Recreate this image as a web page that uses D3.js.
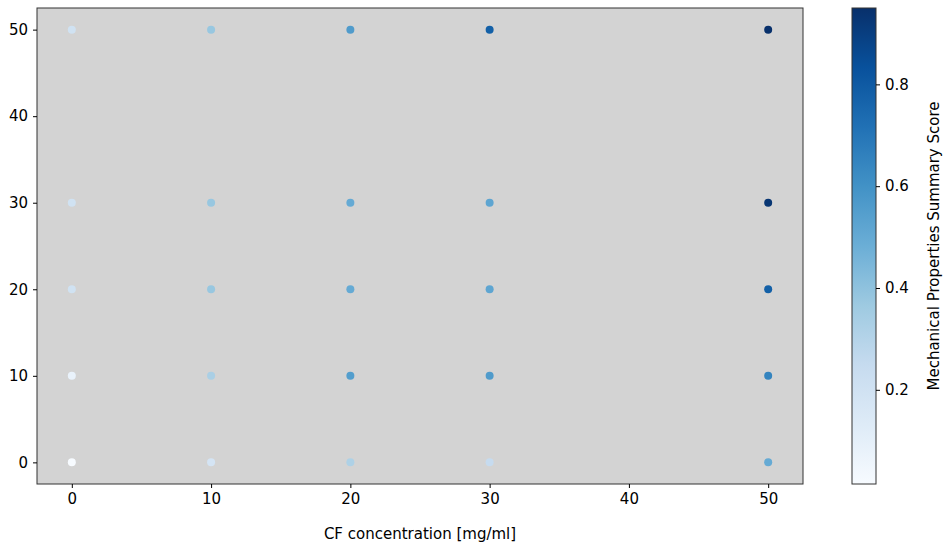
<!DOCTYPE html>
<html>
<head>
<meta charset="utf-8">
<script src="https://cdn.jsdelivr.net/npm/d3@7"></script>
<style>
  body { margin: 0; background: #fff; }
  text { font-family: "DejaVu Sans", sans-serif; }
</style>
</head>
<body>
<div id="chart"></div>
<script>
// CF concentration (x) and second factor (y), one column per x value
const cfLevels = [0, 10, 20, 30, 50];
const yLevels = [0, 10, 20, 30, 50];
// scores[i][j] -> x = cfLevels[i], y = yLevels[j]
const scoreCF0 = [0.015, 0.08, 0.2, 0.2, 0.2];
const scoreCF10 = [0.18, 0.33, 0.38, 0.38, 0.38];
const scoreCF20 = [0.32, 0.55, 0.5, 0.5, 0.56];
const scoreCF30 = [0.25, 0.56, 0.52, 0.52, 0.78];
const scoreCF50 = [0.5, 0.65, 0.78, 0.93, 0.95];
const xTicks = [0, 10, 20, 30, 40, 50];
const yTicks = [0, 10, 20, 30, 40, 50];
const cbTicks = [0.2, 0.4, 0.6, 0.8];

// matplotlib "Blues" stops
const blues = ["#f7fbff", "#deebf7", "#c6dbef", "#9ecae1", "#6baed6",
  "#4292c6", "#2171b5", "#08519c", "#08306b"];

const scores = [scoreCF0, scoreCF10, scoreCF20, scoreCF30, scoreCF50];
const data = [];
cfLevels.forEach((cf, i) => {
  yLevels.forEach((yv, j) => {
    data.push({ x: cf, y: yv, score: scores[i][j] });
  });
});

const width = 949, height = 548;
const plot = { left: 37, top: 8, right: 803, bottom: 484 };
const fontSize = "15px";

const svg = d3.select("#chart").append("svg")
  .attr("width", width)
  .attr("height", height);

const x = d3.scaleLinear().domain([-2.5, 52.5]).range([plot.left, plot.right]);
const y = d3.scaleLinear().domain([-2.5, 52.5]).range([plot.bottom, plot.top]);

const vmin = d3.min(data, d => d.score), vmax = d3.max(data, d => d.score);
const color = d3.scaleLinear()
  .domain(blues.map((_, i) => vmin + (vmax - vmin) * i / (blues.length - 1)))
  .range(blues);

svg.append("rect")
  .attr("x", plot.left).attr("y", plot.top)
  .attr("width", plot.right - plot.left)
  .attr("height", plot.bottom - plot.top)
  .attr("fill", "#d3d3d3");

svg.append("g")
  .selectAll("circle")
  .data(data)
  .join("circle")
  .attr("cx", d => x(d.x))
  .attr("cy", d => y(d.y))
  .attr("r", 4)
  .attr("fill", d => color(d.score));

svg.append("rect")
  .attr("x", plot.left).attr("y", plot.top)
  .attr("width", plot.right - plot.left)
  .attr("height", plot.bottom - plot.top)
  .attr("fill", "none")
  .attr("stroke", "#333")
  .attr("stroke-width", 1);

const xAxis = svg.append("g")
  .attr("transform", `translate(0, ${plot.bottom})`)
  .call(d3.axisBottom(x).tickValues(xTicks).tickSize(4).tickPadding(5));
const yAxis = svg.append("g")
  .attr("transform", `translate(${plot.left}, 0)`)
  .call(d3.axisLeft(y).tickValues(yTicks).tickSize(4).tickPadding(5));
[xAxis, yAxis].forEach(g => {
  g.select(".domain").remove();
  g.selectAll("text").style("font-size", fontSize).attr("fill", "#000")
    .style("font-family", "DejaVu Sans, sans-serif");
  g.selectAll("line").attr("stroke", "#000");
});

svg.append("text")
  .attr("x", (plot.left + plot.right) / 2)
  .attr("y", 539)
  .attr("text-anchor", "middle")
  .style("font-size", fontSize)
  .text("CF concentration [mg/ml]");

// Colorbar
const cb = { left: 852, right: 876, top: 8, bottom: 484 };
const cbScale = d3.scaleLinear().domain([vmin, vmax]).range([cb.bottom, cb.top]);

const defs = svg.append("defs");
const grad = defs.append("linearGradient")
  .attr("id", "cbgrad")
  .attr("x1", 0).attr("y1", 1).attr("x2", 0).attr("y2", 0);
grad.selectAll("stop")
  .data(blues)
  .join("stop")
  .attr("offset", (d, i) => i / (blues.length - 1))
  .attr("stop-color", d => d);

svg.append("rect")
  .attr("x", cb.left).attr("y", cb.top)
  .attr("width", cb.right - cb.left)
  .attr("height", cb.bottom - cb.top)
  .attr("fill", "url(#cbgrad)")
  .attr("stroke", "#333")
  .attr("stroke-width", 1);

const cbAxis = svg.append("g")
  .attr("transform", `translate(${cb.right}, 0)`)
  .call(d3.axisRight(cbScale).tickValues(cbTicks).tickFormat(d3.format(".1f")).tickSize(4).tickPadding(5));
cbAxis.select(".domain").remove();
cbAxis.selectAll("text").style("font-size", fontSize).attr("fill", "#000")
  .style("font-family", "DejaVu Sans, sans-serif");
cbAxis.selectAll("line").attr("stroke", "#000");

svg.append("text")
  .attr("transform", `translate(939, ${(cb.top + cb.bottom) / 2}) rotate(-90)`)
  .attr("text-anchor", "middle")
  .style("font-size", fontSize)
  .text("Mechanical Properties Summary Score");
</script>
</body>
</html>
